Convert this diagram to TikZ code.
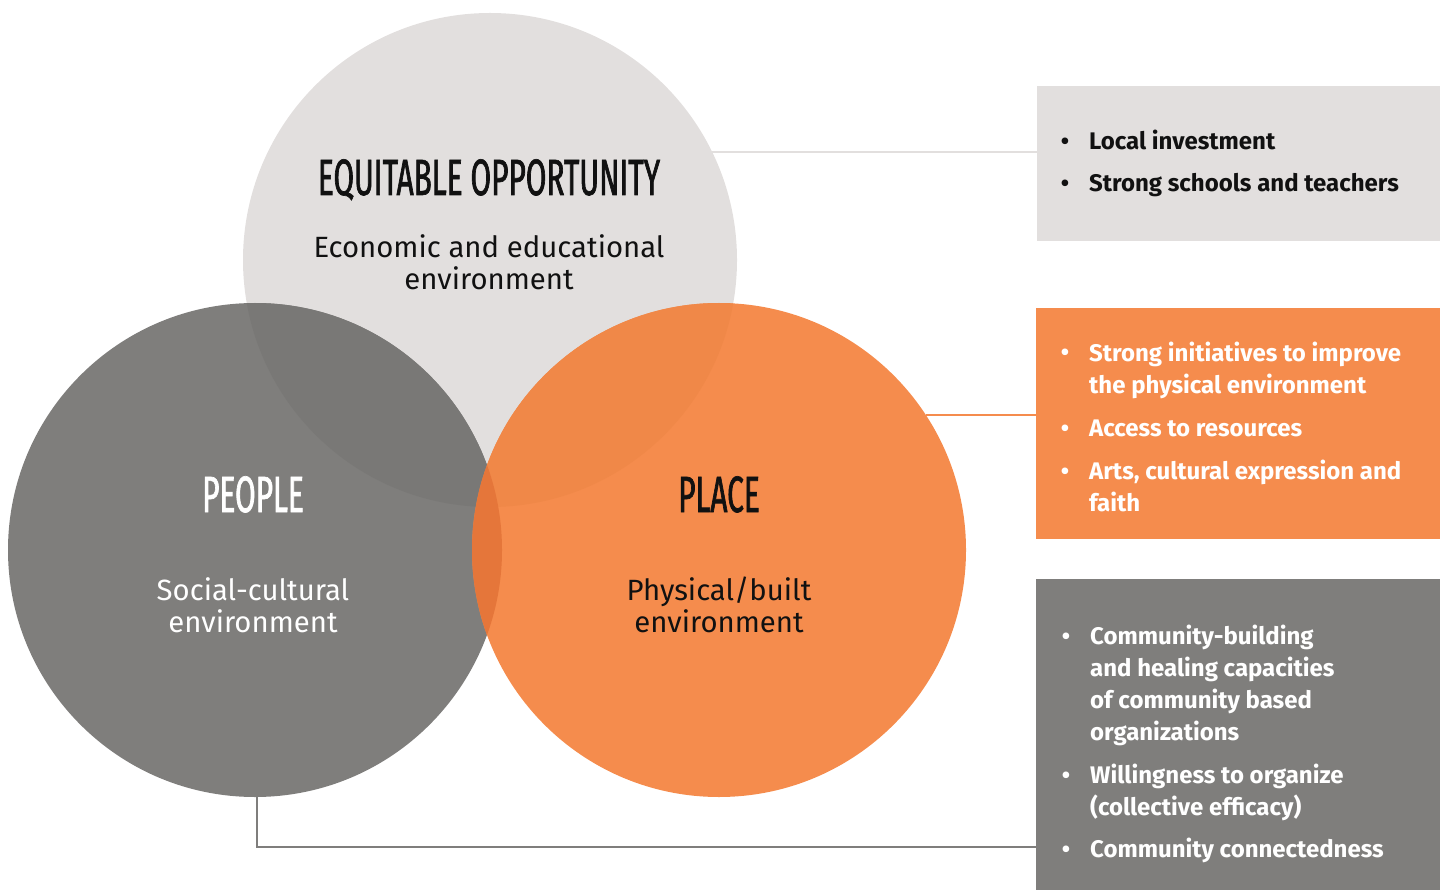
\documentclass[tikz,border=0pt]{standalone}
\usepackage{fontspec}
\usetikzlibrary{calc}
\setmainfont{Fira Sans}
\newfontfamily\titlefont[FakeStretch=0.585,FakeBold=1.3]{Fira Sans}
\newfontfamily\subfont{Fira Sans}
\definecolor{lgray}{HTML}{E2DFDE}
\definecolor{dgray}{HTML}{7F7E7C}
\definecolor{orng}{HTML}{F58C4D}
\definecolor{ovTL}{HTML}{797876}
\definecolor{ovTR}{HTML}{F08848}
\definecolor{ovLR}{HTML}{E5763A}
\definecolor{ink}{HTML}{111111}
\tikzset{
  venn/.style={circle, minimum size=494pt, inner sep=0pt, draw=none},
  ttl/.style={anchor=base, font=\titlefont\fontsize{51}{51}\selectfont},
  sub/.style={anchor=base, align=center, font=\subfont\fontsize{29.3}{32}\selectfont},
  infobox/.style={rectangle, inner sep=0pt, draw=none, anchor=north west},
  btext/.style={anchor=base west, align=left, inner sep=0pt, font=\bfseries\fontsize{24}{32}\selectfont},
  bdot/.style={anchor=base, inner sep=0pt, font=\bfseries\fontsize{24}{32}\selectfont},
  conn/.style={line width=2pt},
}
\begin{document}
\begin{tikzpicture}[x=1pt,y=-1pt]
\useasboundingbox (0,0) rectangle (1440,890);
% circles
\node[venn, fill=lgray] (top) at (490,260) {};
\node[venn, fill=dgray] (left) at (255,550) {};
\node[venn, fill=orng] (right) at (719,550) {};
% overlaps
\begin{scope}
  \clip (490,260) circle[radius=247];
  \fill[ovTL] (255,550) circle[radius=247];
  \fill[ovTR] (719,550) circle[radius=247];
\end{scope}
\begin{scope}
  \clip (255,550) circle[radius=247];
  \fill[ovLR] (719,550) circle[radius=247];
\end{scope}
% boxes
\node[infobox, fill=lgray, minimum width=403pt, minimum height=155pt] (b1) at (1037,86) {};
\node[infobox, fill=orng, minimum width=404pt, minimum height=231pt] (b2) at (1036,308) {};
\node[infobox, fill=dgray, minimum width=404pt, minimum height=311pt] (b3) at (1036,579) {};
% connectors
\draw[conn, lgray] (top.26.2) -- (top.26.2 -| b1.west);
\draw[conn, orng] (right.33.7) -- (right.33.7 -| b2.west);
\coordinate (c3) at ($(left.south)+(2,50)$);
\draw[conn, dgray] ([xshift=2pt]left.south) |- (c3 -| b3.west);
% circle labels (base anchor = baseline of last line)
\node[ttl, text=ink] (t1) at (489,195) {EQUITABLE OPPORTUNITY};
\node[sub, text=ink] (s1) at (489,290) {Economic and educational\\environment};
\node[ttl, text=white] (t2) at (253,512) {PEOPLE};
\node[sub, text=white] (s2) at (253,632) {Social-cultural\\environment};
\node[ttl, text=ink] (t3) at (719,512) {PLACE};
\node[sub, text=ink] (s3) at (719,632) {Physical/built\\environment};
% box 1 bullets
\node[bdot, text=ink] (d11) at (1065,150) {\textbullet};
\node[btext, text=ink] (i11) at (1089,150) {Local investment};
\node[bdot, text=ink] (d12) at (1065,192) {\textbullet};
\node[btext, text=ink] (i12) at (1089,192) {Strong schools and teachers};
% box 2 bullets
\node[bdot, text=white] (d21) at (1065,361) {\textbullet};
\node[btext, text=white] (i21) at (1089,393) {Strong initiatives to improve\\the physical environment};
\node[bdot, text=white] (d22) at (1065,436) {\textbullet};
\node[btext, text=white] (i22) at (1089,436) {Access to resources};
\node[bdot, text=white] (d23) at (1065,479) {\textbullet};
\node[btext, text=white] (i23) at (1089,511) {Arts, cultural expression and\\faith};
% box 3 bullets
\node[bdot, text=white] (d31) at (1066,644) {\textbullet};
\node[btext, text=white] (i31) at (1090,740) {Community-building\\and healing capacities\\of community based\\organizations};
\node[bdot, text=white] (d32) at (1066,783) {\textbullet};
\node[btext, text=white] (i32) at (1090,815) {Willingness to organize\\(collective efficacy)};
\node[bdot, text=white] (d33) at (1066,857) {\textbullet};
\node[btext, text=white] (i33) at (1090,857) {Community connectedness};
\end{tikzpicture}
\end{document}
